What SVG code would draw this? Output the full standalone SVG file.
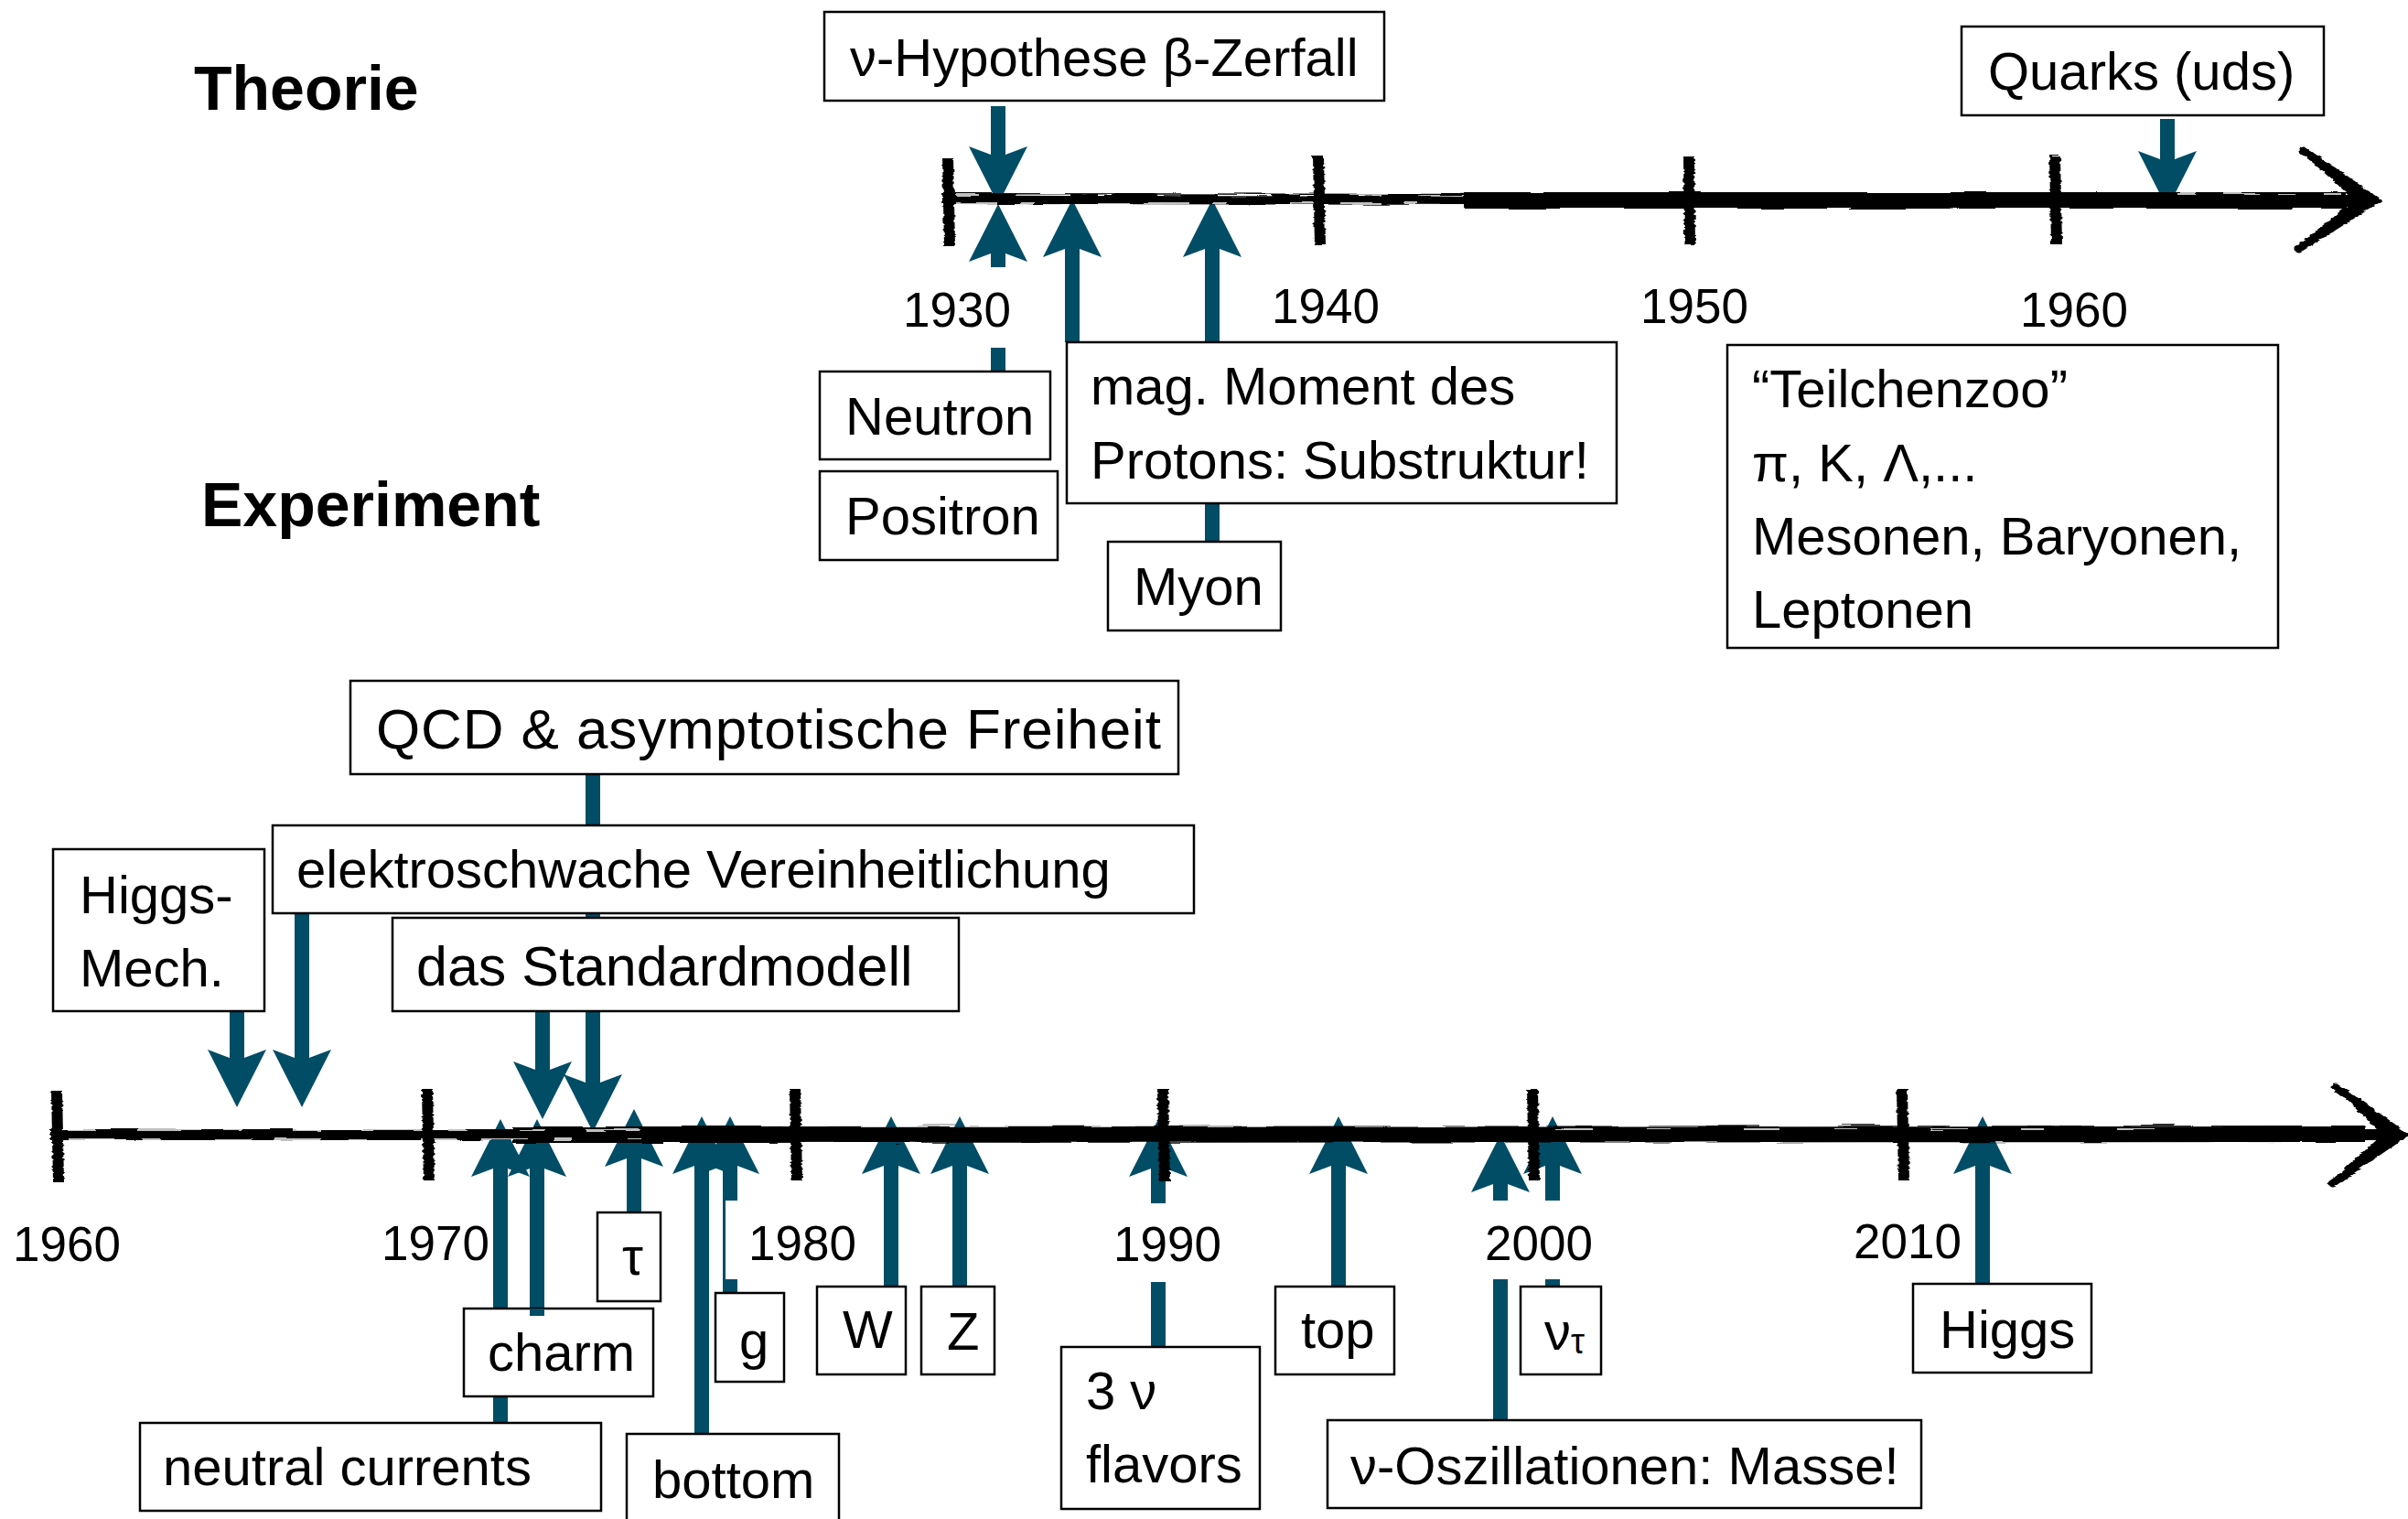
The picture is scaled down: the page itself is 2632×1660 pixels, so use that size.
<svg xmlns="http://www.w3.org/2000/svg" width="2632" height="1660" viewBox="0 0 2632 1660">
<defs>
<style>
text{font-family:"Liberation Sans",Arial,Helvetica,sans-serif;fill:#000}
.t{font-size:58px}
.yr{font-size:53px;text-anchor:middle}
.h{font-size:68px;font-weight:bold}
.node rect{fill:#fff;stroke:#000;stroke-width:2.5}
.ar{stroke:#024d66;stroke-width:16;fill:none;marker-end:url(#ah)}
.bg{fill:#fff}
.ink{stroke:#000;fill:none;stroke-linecap:butt}
.streak{stroke:#fff;fill:none;stroke-width:1.4}
.tick{stroke:#000;fill:none;stroke-width:12;stroke-linecap:butt}
.chev{fill:none;stroke:#000;stroke-width:9;stroke-linejoin:miter;stroke-linecap:round}
</style>
<marker id="ah" markerUnits="userSpaceOnUse" viewBox="0 -33 64 66" markerWidth="64" markerHeight="66" refX="14" refY="0" orient="auto">
<path d="M0,-32 L63,0 L0,32 L12,0 Z" fill="#024d66"/>
</marker>
<filter id="rough" filterUnits="userSpaceOnUse" x="0" y="0" width="2632" height="1660">
<feTurbulence type="fractalNoise" baseFrequency="0.015 0.3" numOctaves="2" seed="7" result="n"/>
<feDisplacementMap in="SourceGraphic" in2="n" scale="5" xChannelSelector="R" yChannelSelector="G"/>
</filter>
</defs>
<rect x="0" y="0" width="2632" height="1660" fill="#fff"/>

<g id="connectors">
<line class="ar" x1="1091" y1="116" x2="1091" y2="174"/>
<line class="ar" x1="2369" y1="130" x2="2369" y2="179"/>
<line class="ar" x1="1091" y1="406" x2="1091" y2="272"/>
<line class="ar" x1="1172" y1="374" x2="1172" y2="267"/>
<line class="ar" x1="1325" y1="592" x2="1325" y2="267"/>
<line class="ar" x1="259" y1="1103" x2="259" y2="1161"/>
<line class="ar" x1="330" y1="998" x2="330" y2="1161"/>
<line class="ar" x1="593" y1="1105" x2="593" y2="1174"/>
<line class="ar" x1="648" y1="846" x2="648" y2="1188"/>
<line class="ar" x1="547" y1="1555" x2="547" y2="1272"/>
<line class="ar" x1="587" y1="1430" x2="587" y2="1272"/>
<line class="ar" x1="693" y1="1325" x2="693" y2="1261"/>
<line class="ar" x1="767" y1="1567" x2="767" y2="1269"/>
<line class="ar" x1="798" y1="1413" x2="798" y2="1269"/>
<line class="ar" x1="974" y1="1406" x2="974" y2="1269"/>
<line class="ar" x1="1049" y1="1406" x2="1049" y2="1269"/>
<line class="ar" x1="1266" y1="1472" x2="1266" y2="1272"/>
<line class="ar" x1="1463" y1="1406" x2="1463" y2="1269"/>
<line class="ar" x1="1640" y1="1552" x2="1640" y2="1289"/>
<line class="ar" x1="1697" y1="1406" x2="1697" y2="1269"/>
<line class="ar" x1="2167" y1="1403" x2="2167" y2="1269"/>
</g>

<g id="timeline-theorie" filter="url(#rough)">
<path class="ink" d="M1030,217 L2590,219" stroke-width="12"/>
<path class="ink" d="M1600,219 L2565,219" stroke-width="18"/>
<path class="streak" d="M1045,213 L1600,214" stroke-dasharray="25 40 60 30 15 50"/>
<path class="streak" d="M1045,222 L1600,222" stroke-dasharray="45 25 15 70 35 20"/>
<path class="streak" d="M2380,212 L2560,212" stroke-dasharray="20 30 40 20"/>
<path class="tick" d="M1036,172 L1038,268"/>
<path class="tick" d="M1441,170 L1443,268"/>
<path class="tick" d="M1846,170 L1847,268"/>
<path class="tick" d="M2246,170 L2248,268"/>
<path d="M2514,160 L2602,219 L2508,276 L2524,258 L2574,219 L2526,176 Z" fill="#000"/>
<path class="chev" d="M2518,165 L2596,219 L2512,272"/>
</g>

<g id="timeline-experiment" filter="url(#rough)">
<path class="ink" d="M55,1240 L2618,1240" stroke-width="12"/>
<path class="ink" d="M560,1240 L2585,1239" stroke-width="18"/>
<path class="streak" d="M75,1235 L700,1235" stroke-dasharray="30 45 70 25 20 55"/>
<path class="streak" d="M75,1245 L700,1245" stroke-dasharray="50 30 20 60 40 25"/>
<path class="streak" d="M1700,1234 L2400,1234" stroke-dasharray="40 60 25 80"/>
<path class="tick" d="M62,1192 L64,1292"/>
<path class="tick" d="M467,1190 L469,1290"/>
<path class="tick" d="M869,1190 L871,1290"/>
<path class="tick" d="M1271,1190 L1273,1290"/>
<path class="tick" d="M1675,1190 L1677,1290"/>
<path class="tick" d="M2079,1190 L2081,1290"/>
<path d="M2550,1183 L2632,1240 L2545,1297 L2560,1280 L2604,1240 L2562,1199 Z" fill="#000"/>
<path class="chev" d="M2553,1188 L2626,1240 L2549,1293"/>
</g>

<g id="years">
<rect class="bg" x="980" y="292" width="132" height="88"/>
<text class="yr" x="1046" y="357">1930</text>
<text class="yr" x="1449" y="353">1940</text>
<text class="yr" x="1852" y="353">1950</text>
<text class="yr" x="2267" y="357">1960</text>
<text class="yr" x="73" y="1378">1960</text>
<text class="yr" x="476" y="1377">1970</text>
<rect class="bg" x="793" y="1312" width="152" height="86"/>
<text class="yr" x="877" y="1377">1980</text>
<rect class="bg" x="1210" y="1315" width="132" height="86"/>
<text class="yr" x="1276" y="1378">1990</text>
<rect class="bg" x="1615" y="1312" width="135" height="86"/>
<text class="yr" x="1682" y="1377">2000</text>
<text class="yr" x="2085" y="1375">2010</text>
</g>

<g id="headings">
<text class="h" x="212" y="120">Theorie</text>
<text class="h" x="220" y="575">Experiment</text>
</g>

<g id="n-nuhyp" class="node"><rect x="901" y="13" width="612" height="97"/><text class="t" x="929" y="83">ν-Hypothese β-Zerfall</text></g>
<g id="n-quarks" class="node"><rect x="2144" y="29" width="396" height="97"/><text class="t" x="2173" y="98">Quarks (uds)</text></g>
<g id="n-neutron" class="node"><rect x="896" y="406" width="252" height="96"/><text class="t" x="924" y="475">Neutron</text></g>
<g id="n-positron" class="node"><rect x="896" y="515" width="260" height="97"/><text class="t" x="924" y="584">Positron</text></g>
<g id="n-magmom" class="node"><rect x="1166" y="374" width="601" height="176"/><text class="t" x="1192" y="442">mag. Moment des</text><text class="t" x="1192" y="523">Protons: Substruktur!</text></g>
<g id="n-myon" class="node"><rect x="1211" y="592" width="189" height="97"/><text class="t" x="1239" y="661">Myon</text></g>
<g id="n-zoo" class="node"><rect x="1888" y="377" width="602" height="331"/><text class="t" x="1915" y="445">“Teilchenzoo”</text><text class="t" x="1915" y="526">π, K, Λ,...</text><text class="t" x="1915" y="606">Mesonen, Baryonen,</text><text class="t" x="1915" y="686">Leptonen</text></g>

<g id="n-qcd" class="node"><rect x="383" y="744" width="905" height="102"/><text class="t" x="411" y="818" style="font-size:62px" textLength="858">QCD &amp; asymptotische Freiheit</text></g>
<g id="n-ew" class="node"><rect x="298" y="902" width="1007" height="96"/><text class="t" x="324" y="970">elektroschwache Vereinheitlichung</text></g>
<g id="n-higgsmech" class="node"><rect x="58" y="928" width="231" height="177"/><text class="t" x="87" y="998">Higgs-</text><text class="t" x="87" y="1078">Mech.</text></g>
<g id="n-sm" class="node"><rect x="429" y="1003" width="619" height="102"/><text class="t" x="455" y="1077" style="font-size:61px">das Standardmodell</text></g>
<g id="n-charm" class="node"><rect x="507" y="1430" width="207" height="96"/><text class="t" x="533" y="1498">charm</text></g>
<g id="n-nc" class="node"><rect x="153" y="1555" width="504" height="96"/><text class="t" x="178" y="1623">neutral currents</text></g>
<g id="n-tau" class="node"><rect x="653" y="1325" width="69" height="97"/><text class="t" x="680" y="1393">τ</text></g>
<g id="n-bottom" class="node"><rect x="685" y="1567" width="232" height="110"/><text class="t" x="713" y="1637">bottom</text></g>
<g id="n-g" class="node"><rect x="782" y="1413" width="75" height="97"/><text class="t" x="808" y="1485">g</text></g>
<g id="n-w" class="node"><rect x="893" y="1406" width="97" height="96"/><text class="t" x="921" y="1473">W</text></g>
<g id="n-z" class="node"><rect x="1007" y="1406" width="80" height="96"/><text class="t" x="1035" y="1475">Z</text></g>
<g id="n-3nu" class="node"><rect x="1160" y="1472" width="217" height="177"/><text class="t" x="1187" y="1540">3 ν</text><text class="t" x="1187" y="1620">flavors</text></g>
<g id="n-top" class="node"><rect x="1394" y="1406" width="130" height="96"/><text class="t" x="1422" y="1473">top</text></g>
<g id="n-nuosz" class="node"><rect x="1451" y="1552" width="649" height="96"/><text class="t" x="1476" y="1622">ν-Oszillationen: Masse!</text></g>
<g id="n-nutau" class="node"><rect x="1662" y="1406" width="88" height="96"/><text class="t" x="1688" y="1475">ν<tspan font-size="38" dy="4">τ</tspan></text></g>
<g id="n-higgs" class="node"><rect x="2091" y="1403" width="195" height="97"/><text class="t" x="2120" y="1473">Higgs</text></g>

<g id="charm-stub"><rect x="579" y="1430" width="16" height="8" fill="#024d66"/></g>
</svg>
